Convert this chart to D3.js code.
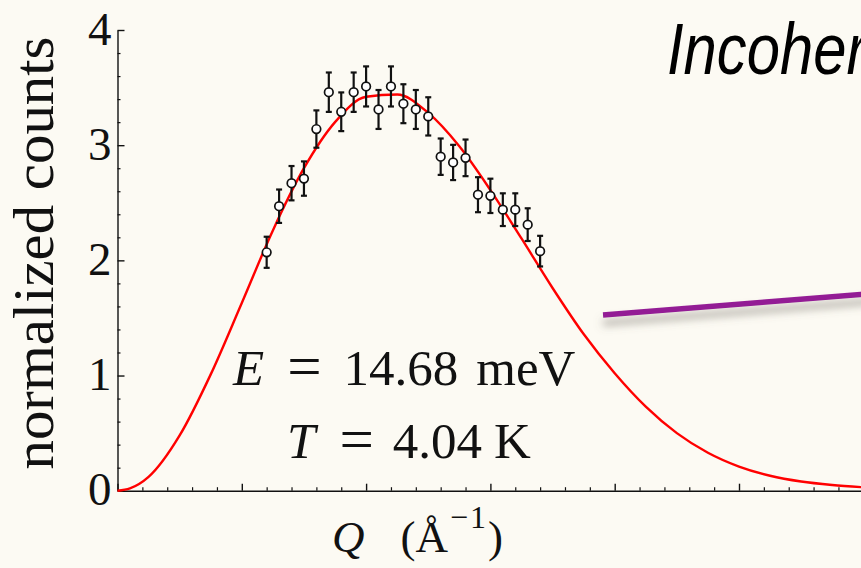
<!DOCTYPE html>
<html>
<head>
<meta charset="utf-8">
<script src="https://cdn.jsdelivr.net/npm/d3@7"></script>
<style>
  html, body { margin: 0; padding: 0; background: #fcfaf3; overflow: hidden; }
  svg { display: block; }
</style>
</head>
<body>
<svg id="chart" width="861" height="568"></svg>
<script>
// Measured intensity versus momentum transfer
const qPoints = [1.2, 1.3, 1.4, 1.5, 1.6, 1.7, 1.8, 1.9, 2.0, 2.1, 2.2, 2.3,
                 2.4, 2.5, 2.6, 2.7, 2.8, 2.9, 3.0, 3.1, 3.2, 3.3, 3.4];
const counts = [2.07, 2.47, 2.67, 2.71, 3.14, 3.46, 3.29, 3.46, 3.51, 3.31, 3.51, 3.36,
                3.31, 3.25, 2.90, 2.85, 2.89, 2.57, 2.56, 2.44, 2.44, 2.31, 2.08];
const errors = [0.135, 0.145, 0.149, 0.149, 0.162, 0.171, 0.168, 0.171, 0.174, 0.169, 0.174, 0.169,
                0.169, 0.166, 0.158, 0.153, 0.159, 0.152, 0.149, 0.142, 0.142, 0.142, 0.133];

// Model curve sampled along Q
const fitQ = [0, 0.1, 0.25, 0.5, 0.75, 1.0, 1.25, 1.5, 1.75, 2.0, 2.25, 2.5, 2.75, 3.0,
              3.25, 3.5, 3.75, 4.0, 4.25, 4.5, 4.75, 5.0, 5.25, 5.5, 5.75, 6.0];
const fitCounts = [0, 0.02, 0.12, 0.48, 1.01, 1.63, 2.26, 2.80, 3.20, 3.42, 3.44, 3.28, 2.99, 2.61,
                   2.19, 1.76, 1.36, 1.02, 0.73, 0.50, 0.33, 0.21, 0.13, 0.08, 0.05, 0.03];

// Pointer line leading off to the right
const pointerQ = [3.906, 6.2];
const pointerCounts = [1.525, 1.722];

const yTicks = [0, 1, 2, 3, 4];
const yTickLabels = ["0", "1", "2", "3", "4"];
const xMajorTicks = [0, 1, 2, 3, 4, 5, 6];

const svg = d3.select("#chart");
const W = 861, H = 568;

svg.append("rect").attr("width", W).attr("height", H).attr("fill", "#fcfaf3");

const x = d3.scaleLinear().domain([0, 6]).range([117.5, 863.3]);
const y = d3.scaleLinear().domain([0, 4]).range([490.7, 30]);

const serif = "'Liberation Serif', 'Times New Roman', serif";

// Soft shadow for the pointer line
const defs = svg.append("defs");
const shadow = defs.append("filter").attr("id", "lineShadow")
  .attr("x", "-20%").attr("y", "-200%").attr("width", "140%").attr("height", "600%");
shadow.append("feDropShadow")
  .attr("dx", 0).attr("dy", 8).attr("stdDeviation", 4.5)
  .attr("flood-color", "#6e6a62").attr("flood-opacity", 0.55);

// Minor ticks (inward)
const xMinor = d3.range(0, 6.01, 0.2).filter(v => Math.abs(v - Math.round(v)) > 1e-6);
const yMinor = d3.range(0, 4.01, 0.2).filter(v => Math.abs(v - Math.round(v)) > 1e-6);

svg.append("g")
  .attr("transform", `translate(0,${y(0)})`)
  .call(d3.axisBottom(x).tickValues(xMinor).tickSizeInner(-3.5).tickSizeOuter(0).tickFormat(""))
  .call(g => g.select(".domain").remove())
  .call(g => g.selectAll("line").attr("stroke", "#111").attr("stroke-width", 1.2));

svg.append("g")
  .attr("transform", `translate(${x(0)},0)`)
  .call(d3.axisLeft(y).tickValues(yMinor).tickSizeInner(-3).tickSizeOuter(0).tickFormat(""))
  .call(g => g.select(".domain").remove())
  .call(g => g.selectAll("line").attr("stroke", "#111").attr("stroke-width", 1.2));

// Major ticks and axis lines
svg.append("g")
  .attr("transform", `translate(0,${y(0)})`)
  .call(d3.axisBottom(x).tickValues(xMajorTicks).tickSizeInner(-7).tickSizeOuter(0).tickFormat(""))
  .call(g => g.select(".domain").attr("stroke", "#111").attr("stroke-width", 1.4))
  .call(g => g.selectAll("line").attr("stroke", "#111").attr("stroke-width", 1.4));

svg.append("g")
  .attr("transform", `translate(${x(0)},0)`)
  .call(d3.axisLeft(y).tickValues(yTicks).tickSizeInner(-7).tickSizeOuter(0).tickPadding(6)
        .tickFormat((d, i) => yTickLabels[i]))
  .call(g => g.select(".domain").attr("stroke", "#111").attr("stroke-width", 1.4))
  .call(g => g.selectAll("line").attr("stroke", "#111").attr("stroke-width", 1.4))
  .call(g => g.selectAll("text")
    .attr("font-family", serif).attr("font-size", 47).attr("fill", "#111")
    .attr("dy", "0.3em"));

// Model curve
const line = d3.line().x(d => x(d[0])).y(d => y(d[1])).curve(d3.curveMonotoneX);
svg.append("path")
  .datum(fitQ.map((q, i) => [q, fitCounts[i]]))
  .attr("d", line)
  .attr("fill", "none").attr("stroke", "#ff0000").attr("stroke-width", 2.4);

// Data points with error bars
const pts = qPoints.map((q, i) => ({ q, v: counts[i], e: errors[i] }));
const eb = svg.append("g").attr("stroke", "#111").attr("stroke-width", 2.2);
eb.selectAll("line.bar").data(pts).join("line").attr("class", "bar")
  .attr("x1", d => x(d.q)).attr("x2", d => x(d.q))
  .attr("y1", d => y(d.v + d.e)).attr("y2", d => y(d.v - d.e));
eb.selectAll("line.capTop").data(pts).join("line").attr("class", "capTop")
  .attr("x1", d => x(d.q) - 3).attr("x2", d => x(d.q) + 3)
  .attr("y1", d => y(d.v + d.e)).attr("y2", d => y(d.v + d.e));
eb.selectAll("line.capBot").data(pts).join("line").attr("class", "capBot")
  .attr("x1", d => x(d.q) - 3).attr("x2", d => x(d.q) + 3)
  .attr("y1", d => y(d.v - d.e)).attr("y2", d => y(d.v - d.e));
svg.append("g").selectAll("circle").data(pts).join("circle")
  .attr("cx", d => x(d.q)).attr("cy", d => y(d.v)).attr("r", 4.3)
  .attr("fill", "#fff").attr("stroke", "#111").attr("stroke-width", 1.7);

// Pointer line
svg.append("line")
  .attr("x1", x(pointerQ[0])).attr("y1", y(pointerCounts[0]))
  .attr("x2", x(pointerQ[1])).attr("y2", y(pointerCounts[1]))
  .attr("stroke", "#931c95").attr("stroke-width", 5.5)
  .attr("filter", "url(#lineShadow)");

// Axis titles
svg.append("text")
  .attr("transform", "translate(53,253) rotate(-90)")
  .attr("text-anchor", "middle")
  .attr("font-family", serif).attr("font-size", 58).attr("fill", "#111")
  .attr("textLength", 433).attr("lengthAdjust", "spacingAndGlyphs")
  .text("normalized counts");

const xt = svg.append("text")
  .attr("x", 332).attr("y", 552)
  .attr("font-family", serif).attr("font-size", 45).attr("fill", "#111");
xt.append("tspan").attr("font-style", "italic").text("Q");
xt.append("tspan").attr("dx", 36).text("(Å");
xt.append("tspan").attr("font-size", 32).attr("dx", 2).attr("dy", -24).text("−");
xt.append("tspan").attr("font-size", 32).attr("dx", 2).text("1");
xt.append("tspan").attr("dx", 2).attr("dy", 24).text(")");

// Condition labels, spaced like typeset math (wide equals sign)
const t1 = svg.append("text")
  .attr("x", 233).attr("y", 385)
  .attr("font-family", serif).attr("font-size", 51).attr("fill", "#111");
t1.append("tspan").attr("font-style", "italic").text("E");
t1.append("tspan").attr("dx", 23).attr("dy", 2).attr("font-size", 61).text("=");
t1.append("tspan").attr("dx", 22).attr("dy", -2).text("14.68");
t1.append("tspan").attr("dx", 18).text("meV");

const t2 = svg.append("text")
  .attr("x", 287).attr("y", 458)
  .attr("font-family", serif).attr("font-size", 51).attr("fill", "#111");
t2.append("tspan").attr("font-style", "italic").text("T");
t2.append("tspan").attr("dx", 24).attr("dy", 2).attr("font-size", 61).text("=");
t2.append("tspan").attr("dx", 19).attr("dy", -2).text("4.04");
t2.append("tspan").attr("dx", 12).text("K");

// Heading
svg.append("text")
  .attr("transform", "translate(667,74) scale(0.83,1)")
  .attr("font-family", "'Liberation Sans', Arial, sans-serif")
  .attr("font-style", "italic").attr("font-size", 72).attr("fill", "#000")
  .text("Incoherent");
</script>
</body>
</html>
